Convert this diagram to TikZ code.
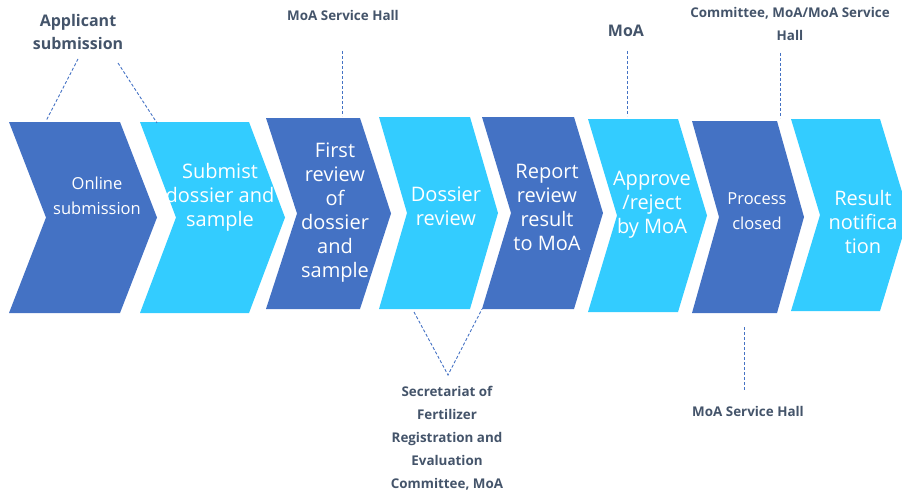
\documentclass[tikz,border=0pt]{standalone}
\usepackage{fontspec}
\setmainfont{Open Sans}
\definecolor{dk}{HTML}{4472C4}
\definecolor{lt}{HTML}{33CCFF}
\definecolor{lbl}{HTML}{44546A}
\newcommand\chevshape[7]{%
  \fill[#7] (#2,#4) coordinate (#1-tl) -- (#3,#4) coordinate (#1-tr)
    -- ({#3+#6},{(#4+#5)/2}) coordinate (#1-tip) -- (#3,#5) coordinate (#1-br)
    -- (#2,#5) coordinate (#1-bl) -- ({#2+#6},{(#4+#5)/2}) coordinate (#1-notch) -- cycle;}
\begin{document}
\begin{tikzpicture}[x=1pt,y=-1pt,
  ctext/.style={text=white, align=center, font=\fontsize{20}{24}\selectfont, inner sep=0},
  stext/.style={text=white, align=center, font=\fontsize{16.5}{24.5}\selectfont, inner sep=0},
  lab/.style={text=lbl, align=center, font=\bfseries\fontsize{13.4}{23}\selectfont, inner sep=0},
  blab/.style={text=lbl, align=center, font=\bfseries\fontsize{16}{23}\selectfont, inner sep=0},
  link/.style={draw=dk, dash pattern=on 3pt off 2pt, line width=0.9pt}]
\useasboundingbox (0,0) rectangle (902,495);
\begin{scope}
\clip (0,0) rectangle (902,495);
\chevshape{c1}{9}{120}{122}{313}{37}{dk}
\chevshape{c2}{140}{249}{122}{313}{36}{lt}
\chevshape{c3}{266}{360}{118}{309}{31}{dk}
\chevshape{c4}{379}{470}{117}{309}{28}{lt}
\chevshape{c5}{482}{574}{117}{309}{29}{dk}
\chevshape{c6}{588}{678}{119}{312}{29}{lt}
\chevshape{c7}{692}{777}{121}{313}{27}{dk}
\chevshape{c8}{791}{880}{119}{311}{29}{lt}
\end{scope}

\node[stext] (t1) at (97,196) {Online\\submission};
\node[ctext] (t2) at (220,197) {Submist\\dossier and\\sample};
\node[ctext] (t3) at (335,213) {First\\review\\of\\dossier\\and\\sample};
\node[ctext] (t4) at (446,206) {Dossier\\review};
\node[ctext] (t5) at (547,207) {Report\\review\\result\\to MoA};
\node[ctext] (t6) at (652,205) {Approve\\/reject\\by MoA};
\node[stext] (t7) at (757,211) {Process\\closed};
\node[ctext] (t8) at (863,222) {Result\\notifica\\tion};

\node[blab] (l1) at (78,32) {Applicant\\submission};
\node[lab] (l2) at (343,15) {MoA Service Hall};
\node[blab] (l3) at (626,31) {MoA};
\node[lab] (l4) at (790,24) {Committee, MoA/MoA Service\\Hall};
\node[lab] (l5) at (447,438) {Secretariat of\\Fertilizer\\Registration and\\Evaluation\\Committee, MoA};
\node[lab] (l6) at (748,411) {MoA Service Hall};

\coordinate (p1a) at (78,59);  \coordinate (p1b) at (46,121);
\coordinate (p2a) at (118,63); \coordinate (p2b) at (157,123);
\coordinate (p3a) at (342,51); \coordinate (p3b) at (342,116);
\coordinate (p4a) at (627,51); \coordinate (p4b) at (627,116);
\coordinate (p5a) at (780,53); \coordinate (p5b) at (780,118);
\coordinate (p6a) at (414,312); \coordinate (p6b) at (448,375); \coordinate (p6c) at (482,309);
\coordinate (p7a) at (744,327); \coordinate (p7b) at (744,391);

\draw[link] (p1a) -- (p1b);
\draw[link] (p2a) -- (p2b);
\draw[link] (p3a) -- (p3b);
\draw[link] (p4a) -- (p4b);
\draw[link] (p5a) -- (p5b);
\draw[link] (p6a) -- (p6b) -- (p6c);
\draw[link] (p7a) -- (p7b);
\end{tikzpicture}
\end{document}
